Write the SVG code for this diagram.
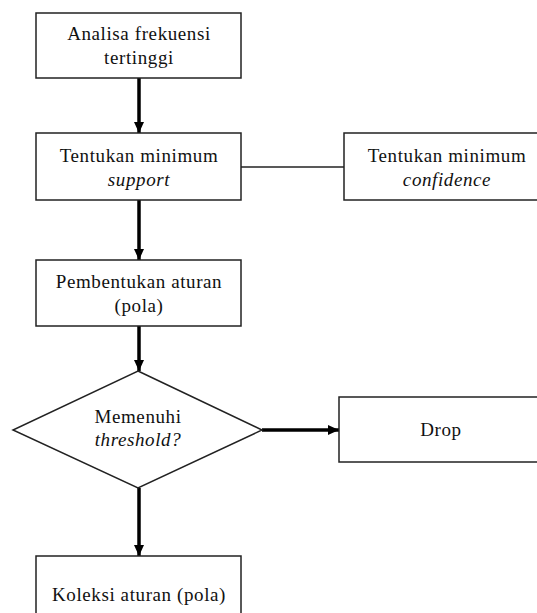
<svg xmlns="http://www.w3.org/2000/svg" width="537" height="613" viewBox="0 0 537 613">
<style>
.box{fill:#fff;stroke:#222;stroke-width:1.5}
.t{font-family:"Liberation Serif","Times New Roman",serif;font-size:19px;letter-spacing:0.6px;fill:#111;text-anchor:middle}
.i{font-style:italic}
.arr{stroke:#000;stroke-width:3.5;fill:none;marker-end:url(#ah)}
.ln{stroke:#222;stroke-width:1.5;fill:none}
</style>
<defs>
<marker id="ah" markerUnits="userSpaceOnUse" markerWidth="12" markerHeight="12" viewBox="0 0 12 12" refX="11" refY="6" orient="auto">
<path d="M0,1 L11,6 L0,11 Z" fill="#000"/>
</marker>
</defs>
<rect width="537" height="613" fill="#fff"/>
<g id="connectors">
<line class="arr" x1="139" y1="78" x2="139" y2="133"/>
<line class="ln" x1="241" y1="167" x2="344" y2="167"/>
<line class="arr" x1="139" y1="200" x2="139" y2="260"/>
<line class="arr" x1="139" y1="326" x2="139" y2="371"/>
<line class="arr" x1="262" y1="430" x2="339" y2="430"/>
<line class="arr" x1="139" y1="488" x2="139" y2="556"/>
</g>
<g id="n1">
<rect class="box" x="36" y="13" width="205" height="65"/>
<text class="t" x="139" y="40">Analisa frekuensi</text>
<text class="t" x="139" y="64">tertinggi</text>
</g>
<g id="n2">
<rect class="box" x="36" y="133" width="205" height="67"/>
<text class="t" x="139" y="162">Tentukan minimum</text>
<text class="t i" x="139" y="186">support</text>
</g>
<g id="n3">
<rect class="box" x="344" y="133" width="210" height="67"/>
<text class="t" x="447" y="162">Tentukan minimum</text>
<text class="t i" x="447" y="186">confidence</text>
</g>
<g id="n4">
<rect class="box" x="36" y="260" width="205" height="66"/>
<text class="t" x="139" y="288">Pembentukan aturan</text>
<text class="t" x="139" y="312">(pola)</text>
</g>
<g id="n5">
<polygon class="box" points="138,371 262,430 138,488 13,430"/>
<text class="t" x="138" y="423">Memenuhi</text>
<text class="t i" x="138" y="446">threshold?</text>
</g>
<g id="n6">
<rect class="box" x="339" y="397" width="210" height="65"/>
<text class="t" x="441" y="436">Drop</text>
</g>
<g id="n7">
<rect class="box" x="36" y="556" width="205" height="70"/>
<text class="t" x="139" y="601">Koleksi aturan (pola)</text>
</g>
</svg>
